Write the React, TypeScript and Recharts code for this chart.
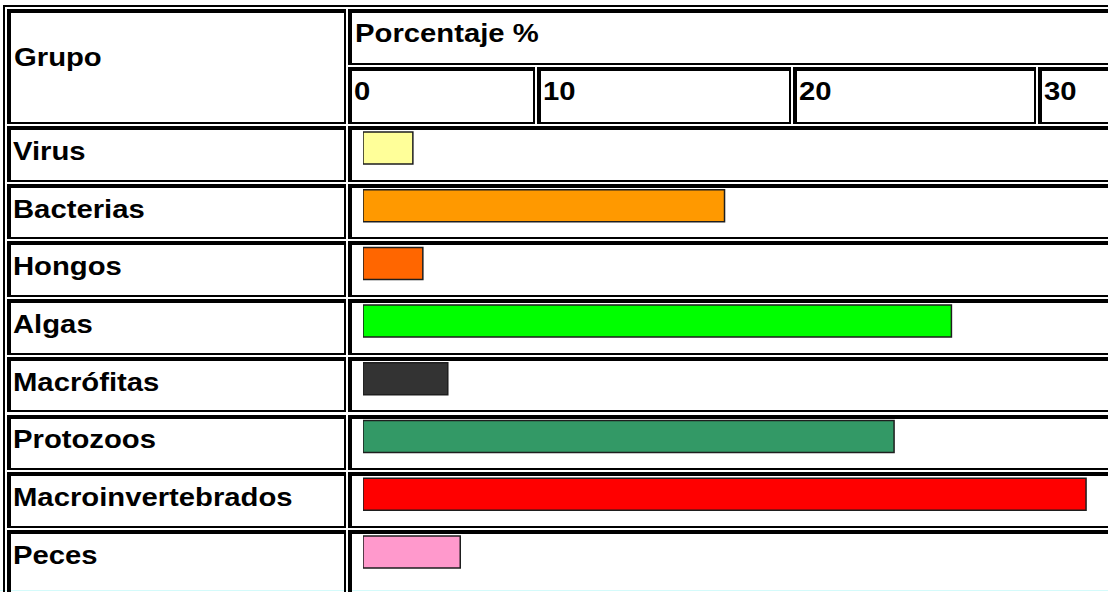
import React from 'react';
import { BarChart, Bar, XAxis, YAxis, Cell } from 'recharts';

const groups = [
  'Virus',
  'Bacterias',
  'Hongos',
  'Algas',
  'Macrófitas',
  'Protozoos',
  'Macroinvertebrados',
  'Peces',
];
const percentages = [2.0, 14.5, 2.4, 23.6, 3.4, 21.3, 29.0, 3.9];
const barColors = [
  '#ffff99',
  '#ff9900',
  '#ff6600',
  '#00ff00',
  '#333333',
  '#339966',
  '#ff0000',
  '#ff99cc',
];
const scaleTicks = ['0', '10', '20', '30'];
const headerGroup = 'Grupo';
const headerValue = 'Porcentaje %';

// table geometry (px)
const ROW_TOP = 126;
const ROW_PITCH = 57.7;
const GAP = 2;
const LEFT_X = 7;
const RIGHT_X = 348;
const TICK_CELL_X = [348, 537, 793, 1038];
const BAR_H = 32;
const BAR_OFFSET = 6;
const CHART_X = 363;
const CHART_W = 748;

const font = {
  fontFamily: '"Liberation Sans", Arial, sans-serif',
  fontWeight: 700,
  fontSize: 25,
  lineHeight: '25px',
  color: '#000',
};

function TableCell({ x, y, w, h }: { x: number; y: number; w: number; h: number }) {
  return (
    <div
      style={{
        position: 'absolute',
        left: x,
        top: y,
        width: w,
        height: h,
        boxSizing: 'border-box',
        borderStyle: 'solid',
        borderColor: '#000',
        borderWidth: '4px 2px 2px 4px',
      }}
    />
  );
}

function Label({ x, baseline, text }: { x: number; baseline: number; text: string }) {
  return (
    <span
      style={{
        ...font,
        position: 'absolute',
        left: x,
        top: baseline - 21.2,
        whiteSpace: 'nowrap',
        transform: 'scaleX(1.17)',
        transformOrigin: 'left top',
      }}
    >
      {text}
    </span>
  );
}

export default function App() {
  const data = groups.map((g, i) => ({ group: g, value: percentages[i] }));
  const chartH = ROW_PITCH * groups.length;
  const chartTop = ROW_TOP + BAR_OFFSET + BAR_H / 2 - ROW_PITCH / 2;

  return (
    <div
      style={{
        position: 'absolute',
        left: 0,
        top: 0,
        width: 1108,
        height: 592,
        overflow: 'hidden',
        background: '#fff',
      }}
    >
      <div style={{ position: 'absolute', left: 0, top: 590, width: 1108, height: 1, background: '#d4fbfb' }} />
      {/* outer table border */}
      <div
        style={{
          position: 'absolute',
          left: 3,
          top: 5,
          width: 1300,
          height: 800,
          boxSizing: 'border-box',
          border: '2px solid #000',
        }}
      />
      {/* header */}
      <TableCell x={LEFT_X} y={9} w={RIGHT_X - GAP - LEFT_X} h={115} />
      <TableCell x={RIGHT_X} y={9} w={900} h={56} />
      {TICK_CELL_X.map((x, i) => (
        <TableCell
          key={i}
          x={x}
          y={67}
          w={i < TICK_CELL_X.length - 1 ? TICK_CELL_X[i + 1] - GAP - x : 200}
          h={57}
        />
      ))}
      <Label x={14} baseline={66} text={headerGroup} />
      <Label x={355} baseline={42} text={headerValue} />
      {scaleTicks.map((t, i) => (
        <Label key={t} x={TICK_CELL_X[i] + 6} baseline={100} text={t} />
      ))}

      {/* body rows */}
      {groups.map((g, i) => {
        const top = ROW_TOP + i * ROW_PITCH;
        const h = i === groups.length - 1 ? 80 : ROW_PITCH - GAP;
        return (
          <React.Fragment key={g}>
            <TableCell x={LEFT_X} y={top} w={RIGHT_X - GAP - LEFT_X} h={h} />
            <TableCell x={RIGHT_X} y={top} w={900} h={h} />
            <Label x={13} baseline={top + 34} text={g} />
          </React.Fragment>
        );
      })}

      <div style={{ position: 'absolute', left: CHART_X, top: chartTop }}>
        <BarChart
          width={CHART_W}
          height={chartH}
          data={data}
          layout="vertical"
          margin={{ top: 0, right: 0, bottom: 0, left: 0 }}
        >
          <XAxis type="number" domain={[0, 30]} hide />
          <YAxis type="category" dataKey="group" hide />
          <Bar
            dataKey="value"
            barSize={BAR_H}
            stroke="#1e1e1e"
            strokeWidth={1.5}
            isAnimationActive={false}
          >
            {data.map((d, i) => (
              <Cell key={d.group} fill={barColors[i]} />
            ))}
          </Bar>
        </BarChart>
      </div>
    </div>
  );
}
